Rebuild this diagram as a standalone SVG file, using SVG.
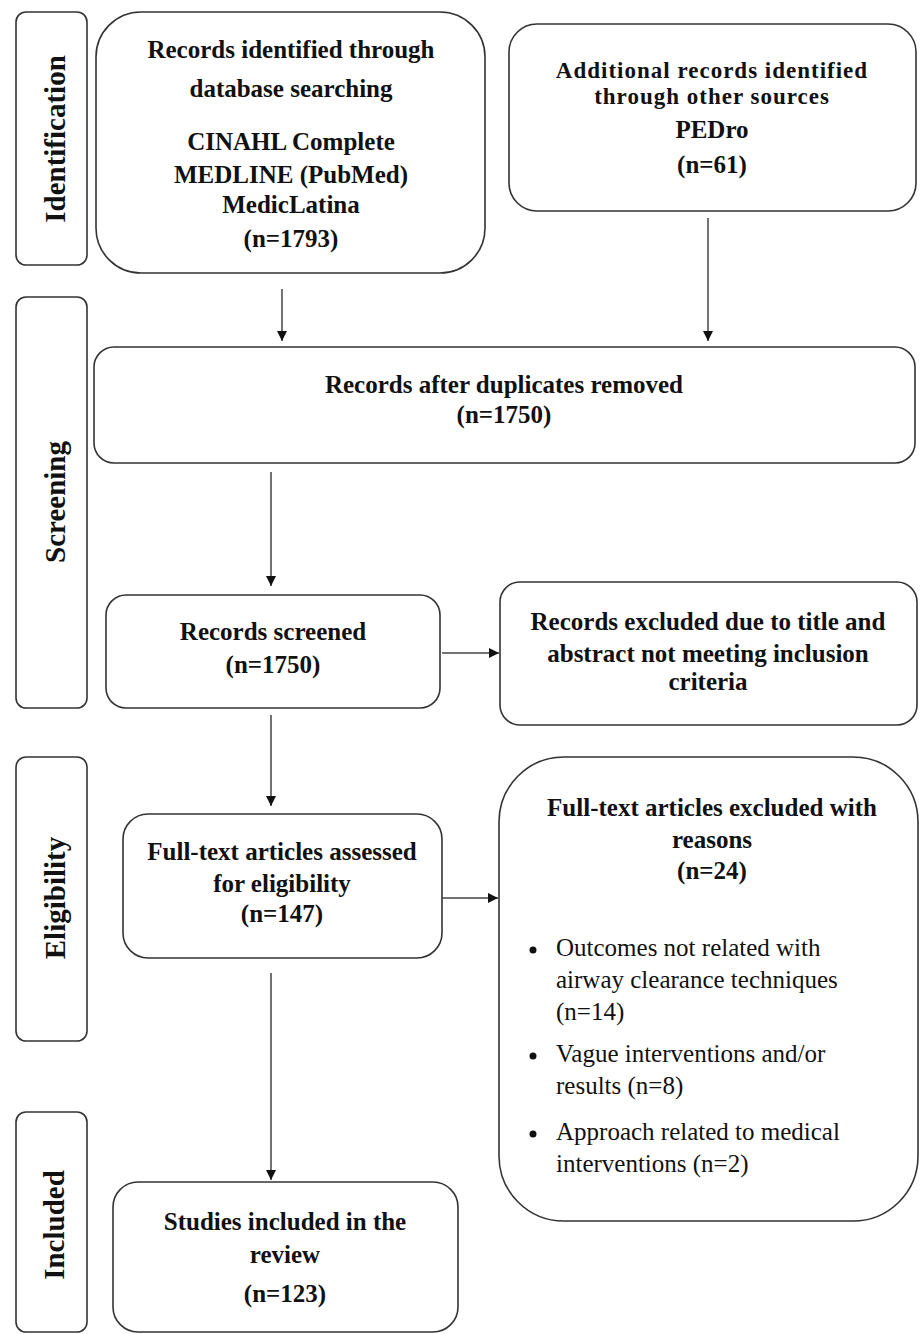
<svg xmlns="http://www.w3.org/2000/svg" width="921" height="1334" viewBox="0 0 921 1334">
<defs>
<marker id="ah" viewBox="0 0 10 10" refX="10" refY="5" markerWidth="10" markerHeight="10" markerUnits="userSpaceOnUse" orient="auto">
<path d="M0,0 L10,5 L0,10 z" fill="#111"/>
</marker>
<style>
.box{fill:#fff;stroke:#333;stroke-width:1.6}
.t{font-family:"Liberation Serif","Times New Roman",serif;font-size:25px;font-weight:bold;fill:#111;text-anchor:middle}
.tt{font-size:23px;letter-spacing:1px}
.r{font-family:"Liberation Serif","Times New Roman",serif;font-size:25px;fill:#111}
.lab{font-family:"Liberation Serif","Times New Roman",serif;font-size:29px;font-weight:bold;fill:#111;text-anchor:middle}
.c{fill:none;stroke:#444;stroke-width:1.5}
</style>
</defs>
<rect width="921" height="1334" fill="#fff"/>

<g id="label-identification">
<rect class="box" x="16" y="12" width="71" height="253" rx="10"/>
<text class="lab" transform="translate(65,139) rotate(-90)">Identification</text>
</g>
<g id="label-screening">
<rect class="box" x="16" y="297" width="71" height="411" rx="10"/>
<text class="lab" transform="translate(65,502) rotate(-90)">Screening</text>
</g>
<g id="label-eligibility">
<rect class="box" x="16" y="757" width="71" height="284" rx="10"/>
<text class="lab" transform="translate(65,898) rotate(-90)">Eligibility</text>
</g>
<g id="label-included">
<rect class="box" x="16" y="1112" width="71" height="220" rx="10"/>
<text class="lab" transform="translate(64,1225) rotate(-90)">Included</text>
</g>

<g id="db-search">
<rect class="box" x="96" y="12" width="389" height="261" rx="45"/>
<text class="t" x="291" y="58">Records identified through</text>
<text class="t" x="291" y="97">database searching</text>
<text class="t" x="291" y="150">CINAHL Complete</text>
<text class="t" x="291" y="183">MEDLINE (PubMed)</text>
<text class="t" x="291" y="213">MedicLatina</text>
<text class="t" x="291" y="247">(n=1793)</text>
</g>

<g id="other-sources">
<rect class="box" x="509" y="24" width="407" height="187" rx="28"/>
<text class="t tt" x="712" y="78">Additional records identified</text>
<text class="t tt" x="712" y="104">through other sources</text>
<text class="t" x="712" y="138">PEDro</text>
<text class="t" x="712" y="173">(n=61)</text>
</g>

<g id="duplicates-removed">
<rect class="box" x="94" y="347" width="821" height="116" rx="20"/>
<text class="t" x="504" y="393">Records after duplicates removed</text>
<text class="t" x="504" y="423">(n=1750)</text>
</g>

<g id="records-screened">
<rect class="box" x="106" y="595" width="334" height="113" rx="20"/>
<text class="t" x="273" y="640">Records screened</text>
<text class="t" x="273" y="673">(n=1750)</text>
</g>

<g id="records-excluded">
<rect class="box" x="500" y="582" width="417" height="143" rx="20"/>
<text class="t" x="708" y="630">Records excluded due to title and</text>
<text class="t" x="708" y="662">abstract not meeting inclusion</text>
<text class="t" x="708" y="690">criteria</text>
</g>

<g id="fulltext-assessed">
<rect class="box" x="123" y="814" width="319" height="144" rx="25"/>
<text class="t" x="282" y="860">Full-text articles assessed</text>
<text class="t" x="282" y="892">for eligibility</text>
<text class="t" x="282" y="922">(n=147)</text>
</g>

<g id="fulltext-excluded">
<rect class="box" x="499" y="757" width="419" height="464" rx="65"/>
<text class="t" x="712" y="816">Full-text articles excluded with</text>
<text class="t" x="712" y="848">reasons</text>
<text class="t" x="712" y="879">(n=24)</text>
<circle cx="533" cy="950" r="3.5" fill="#111"/>
<text class="r" x="556" y="956">Outcomes not related with</text>
<text class="r" x="556" y="988">airway clearance techniques</text>
<text class="r" x="556" y="1020">(n=14)</text>
<circle cx="533" cy="1056" r="3.5" fill="#111"/>
<text class="r" x="556" y="1062">Vague interventions and/or</text>
<text class="r" x="556" y="1094">results (n=8)</text>
<circle cx="533" cy="1134" r="3.5" fill="#111"/>
<text class="r" x="556" y="1140">Approach related to medical</text>
<text class="r" x="556" y="1172">interventions (n=2)</text>
</g>

<g id="studies-included">
<rect class="box" x="113" y="1182" width="345" height="150" rx="25"/>
<text class="t" x="285" y="1230">Studies included in the</text>
<text class="t" x="285" y="1263">review</text>
<text class="t" x="285" y="1302">(n=123)</text>
</g>

<g id="connectors">
<line class="c" x1="282" y1="289" x2="282" y2="341" stroke="#111" stroke-width="2" marker-end="url(#ah)"/>
<line class="c" x1="708" y1="218" x2="708" y2="341" marker-end="url(#ah)"/>
<line class="c" x1="271" y1="472" x2="271" y2="586" marker-end="url(#ah)"/>
<line class="c" x1="442" y1="653" x2="499" y2="653" marker-end="url(#ah)"/>
<line class="c" x1="271" y1="715" x2="271" y2="806" marker-end="url(#ah)"/>
<line class="c" x1="442" y1="898" x2="498" y2="898" marker-end="url(#ah)"/>
<line class="c" x1="271" y1="973" x2="271" y2="1180" marker-end="url(#ah)"/>
</g>
</svg>
